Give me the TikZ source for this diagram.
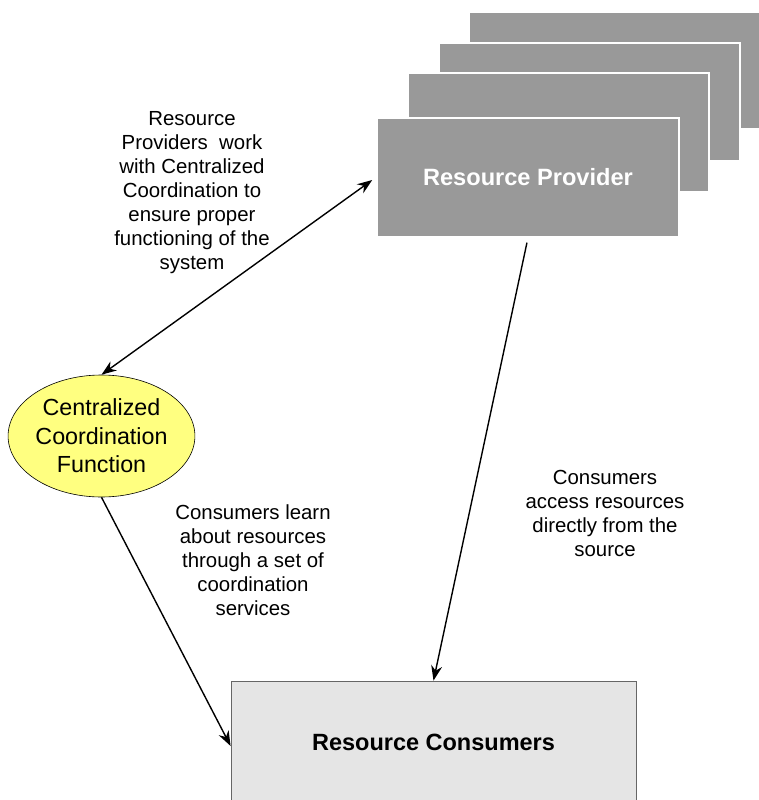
\documentclass[tikz,border=0pt]{standalone}
\usepackage{fontspec}
\setmainfont{Liberation Sans}
\usetikzlibrary{shapes.geometric,arrows.meta}
\definecolor{provgray}{HTML}{999999}
\definecolor{consgray}{HTML}{E5E5E5}
\definecolor{ccyellow}{HTML}{FFFF80}
\tikzset{
  provbox/.style={rectangle,fill=provgray,draw=white,line width=1.5pt,inner sep=0pt},
  conn/.style={line width=1.4pt,-{Stealth[length=15pt,width=11pt]}},
  note/.style={align=center,font=\fontsize{20.4}{24}\selectfont,inner sep=0pt},
}
\begin{document}
\begin{tikzpicture}[x=1pt,y=-1pt]
\useasboundingbox (0,0) rectangle (759,800);
\clip (0,0) rectangle (759,800);
\fill[white] (0,0) rectangle (759,800);
% stacked provider boxes (back to front)
\node[provbox,minimum width=302,minimum height=117] (p4) at (620,70.5) {};
\node[provbox,minimum width=301,minimum height=118] (p3) at (589.5,102) {};
\node[provbox,minimum width=301,minimum height=119] (p2) at (558.5,132.5) {};
\node[provbox,minimum width=302,minimum height=119,text=white,font=\fontsize{23.6}{28}\selectfont\bfseries] (prov) at (528,177.5) {Resource Provider};
% centralized coordination function
\node[ellipse,draw=black,line width=0.6pt,fill=ccyellow,minimum width=183,minimum height=122,inner sep=0pt,align=center,font=\fontsize{23.3}{28.5}\selectfont] (ccf) at (101.5,436) {Centralized\\Coordination\\Function};
% consumers
\node[rectangle,draw=black!60,line width=0.8pt,fill=consgray,minimum width=405,minimum height=122,inner sep=0pt,font=\fontsize{23.5}{28}\selectfont\bfseries] (cons) at (433.5,742) {Resource Consumers};
% notes
\node[note] (n1) at (192,193) {Resource\\Providers\ \ work\\with Centralized\\Coordination to\\ensure proper\\functioning of the\\system};
\node[note] (n2) at (253,560) {Consumers learn\\about resources\\through a set of\\coordination\\services};
\node[note] (n3) at (605,513.5) {Consumers\\access resources\\directly from the\\source};
% connectors
\draw[conn,{Stealth[length=15pt,width=11pt]}-{Stealth[length=15pt,width=11pt]}] (ccf.north) -- ([shift={(-4,2.5)}]prov.west);
\draw[conn] (ccf.south) -- ([yshift=-4]cons.west);
\draw[conn,shorten <=5pt] (prov.south) -- (cons.north);
\end{tikzpicture}
\end{document}
